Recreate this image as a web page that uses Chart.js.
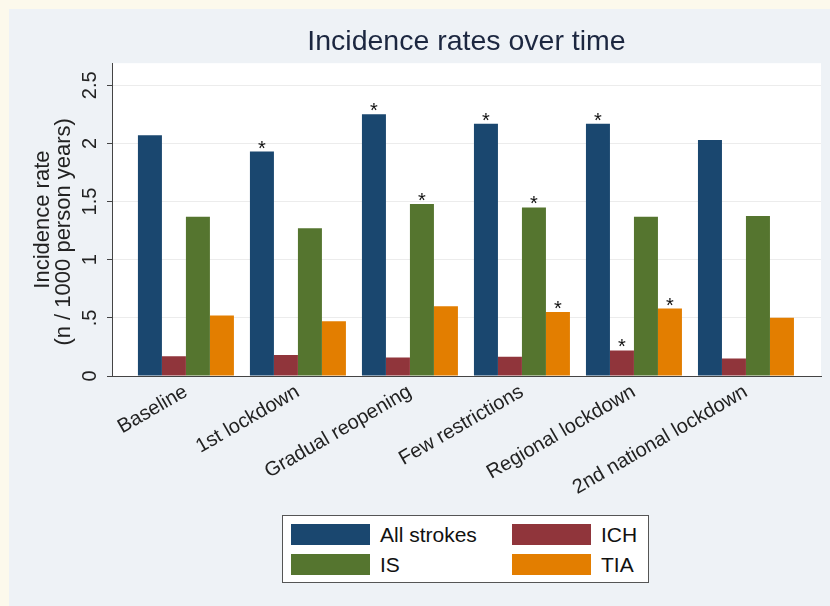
<!DOCTYPE html>
<html>
<head>
<meta charset="utf-8">
<script src="https://cdn.jsdelivr.net/npm/chart.js"></script>
<style>
body{margin:0;background:#fcf9ec;width:830px;height:606px;overflow:hidden;font-family:"Liberation Sans",Arial,sans-serif}
#panel{position:absolute;left:9px;top:9px;width:821px;height:597px;background:#eef2f6}
#gp{position:absolute;left:0;top:0}
#legend{position:absolute;left:273px;top:506px;width:367px;height:68px;box-sizing:border-box;background:#fff;border:1px solid #555;
  display:grid;grid-template-columns:79px 142px 79px auto;grid-template-rows:21px 21px;row-gap:9px;padding:8px 0 0 8px}
#legend .sw{width:79px;height:21px}
#legend .tx{font-size:21px;color:#111;line-height:21px;padding-left:10px;white-space:nowrap}
</style>
</head>
<body>
<div id="panel">
<canvas id="gp" width="821" height="597"></canvas>
<div id="legend"></div>
</div>
<script>
const ctx = document.getElementById("gp");

const periods = ["Baseline","1st lockdown","Gradual reopening","Few restrictions","Regional lockdown","2nd national lockdown"];

// incidence rate, n / 1000 person years
const allStrokes = [2.07, 1.93, 2.25, 2.17, 2.17, 2.03];
const ich        = [0.17, 0.18, 0.16, 0.165, 0.22, 0.15];
const is         = [1.37, 1.27, 1.48, 1.45, 1.37, 1.375];
const tia        = [0.52, 0.47, 0.60, 0.55, 0.58, 0.50];

// 1 = marked with * (significant vs baseline)
const sigAll = [0, 1, 1, 1, 1, 0];
const sigIch = [0, 0, 0, 0, 1, 0];
const sigIs  = [0, 0, 1, 1, 0, 0];
const sigTia = [0, 0, 0, 1, 1, 0];

const yTicks = [0, 0.5, 1, 1.5, 2, 2.5];
const yTickLabels = ["0", ".5", "1", "1.5", "2", "2.5"];

const font = '"Liberation Sans", Arial, sans-serif';

function pts(arr){ return arr.map((v, i) => ({x: i, y: v})); }

const chartData = {
    datasets: [
        {label: "All strokes", data: pts(allStrokes), backgroundColor: "#1a476f", sig: sigAll},
        {label: "ICH",         data: pts(ich),        backgroundColor: "#90353b", sig: sigIch},
        {label: "IS",          data: pts(is),         backgroundColor: "#55752f", sig: sigIs},
        {label: "TIA",         data: pts(tia),        backgroundColor: "#e37e00", sig: sigTia},
    ],
};

// white plot region
const plotBg = {
    id: "plotBg",
    beforeDraw(chart){
        const a = chart.chartArea, c = chart.ctx;
        c.save();
        c.fillStyle = "#ffffff";
        c.fillRect(a.left, a.top, a.right - a.left, a.bottom - a.top);
        c.restore();
    }
};

// stars over bars
const stars = {
    id: "stars",
    afterDatasetsDraw(chart){
        const c = chart.ctx;
        c.save();
        c.font = "20px " + font;
        c.fillStyle = "#111";
        c.textAlign = "center";
        c.textBaseline = "alphabetic";
        chart.data.datasets.forEach((ds, di) => {
            const meta = chart.getDatasetMeta(di);
            ds.sig.forEach((s, i) => {
                if (s) { const b = meta.data[i]; c.fillText("*", b.x, b.y + 3); }
            });
        });
        c.restore();
    }
};

// vertical y tick labels (stata style)
const yLabels = {
    id: "yLabels",
    afterDraw(chart){
        const sc = chart.scales.y, c = chart.ctx;
        c.save();
        c.font = "20px " + font;
        c.fillStyle = "#222";
        c.textAlign = "center";
        c.textBaseline = "middle";
        yTicks.forEach((v, i) => {
            c.save();
            c.translate(sc.right - 22, sc.getPixelForValue(v));
            c.rotate(-Math.PI / 2);
            c.fillText(yTickLabels[i], 0, 0);
            c.restore();
        });
        c.restore();
    }
};

const chartOptions = {
    responsive: false,
    animation: false,
    devicePixelRatio: 1,
    layout: {padding: {left: 0, right: 9, top: 0, bottom: 0}},
    datasets: {bar: {categoryPercentage: 0.857, barPercentage: 1.0, borderWidth: 0}},
    scales: {
        x: {
            type: "linear",
            offset: false,
            min: -0.66,
            max: 5.67,
            afterBuildTicks: s => { s.ticks = periods.map((p, i) => ({value: i})); },
            afterFit: s => { s.height = 230; },
            grid: {display: false, drawTicks: false},
            border: {display: true, color: "#444", width: 1},
            ticks: {
                autoSkip: false,
                minRotation: 30,
                maxRotation: 30,
                padding: 4,
                color: "#222",
                font: {family: font, size: 20},
                callback: v => periods[v],
            },
        },
        y: {
            min: 0,
            max: 2.69,
            afterBuildTicks: s => { s.ticks = yTicks.map(v => ({value: v})); },
            afterFit: s => { s.width = 103; },
            grid: {color: "#ececec", tickColor: "#444", tickLength: 5, drawTicks: true},
            border: {display: true, color: "#444", width: 1},
            ticks: {display: false},
            title: {
                display: true,
                // trailing spaces nudge the 2nd line down like in the original
                text: ["Incidence rate", "(n / 1000 person years)    "],
                color: "#222",
                font: {family: font, size: 22, lineHeight: 0.96},
                padding: {top: 23, bottom: 0},
            },
        },
    },
    plugins: {
        legend: {display: false},
        tooltip: {enabled: false},
        title: {
            display: true,
            fullSize: false,
            text: "Incidence rates over time",
            color: "#1c2740",
            font: {family: font, size: 28.5, weight: "normal", lineHeight: 1.2},
            padding: {top: 16, bottom: 4},
        },
    },
};

const chart = new Chart(ctx, {
    type: "bar",
    data: chartData,
    options: chartOptions,
    plugins: [plotBg, stars, yLabels],
});

// legend box, 2 columns like the original
const lg = document.getElementById("legend");
chart.data.datasets.forEach(ds => {
    const sw = document.createElement("div");
    sw.className = "sw";
    sw.style.background = ds.backgroundColor;
    const tx = document.createElement("div");
    tx.className = "tx";
    tx.textContent = ds.label;
    lg.appendChild(sw);
    lg.appendChild(tx);
});
</script>
</body>
</html>
